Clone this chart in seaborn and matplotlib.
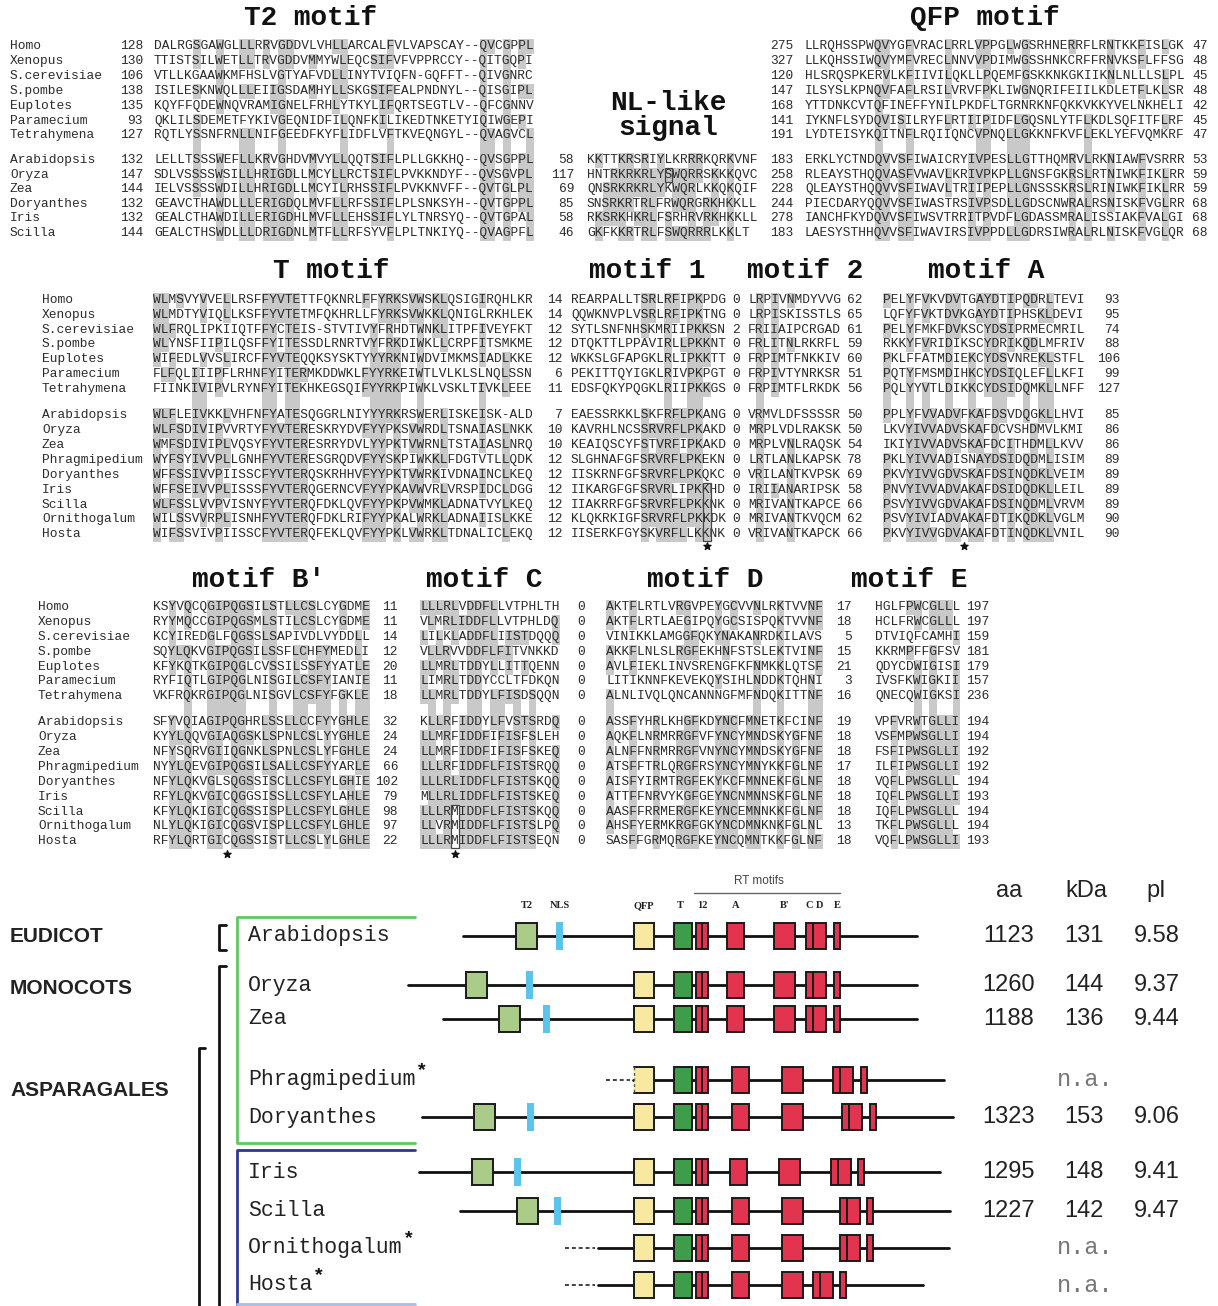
import matplotlib
matplotlib.use("Agg")
import matplotlib.pyplot as plt
from matplotlib.patches import Rectangle
from collections import Counter
import seaborn as sns

sns.set_theme(style="white")
plt.rcParams["font.family"] = ["Liberation Mono", "DejaVu Sans Mono"]

# ---------------- alignment data ----------------
outgroup = ["Homo", "Xenopus", "S.cerevisiae", "S.pombe", "Euplotes", "Paramecium", "Tetrahymena"]
plants_short = ["Arabidopsis", "Oryza", "Zea", "Doryanthes", "Iris", "Scilla"]
plants = ["Arabidopsis", "Oryza", "Zea", "Phragmipedium", "Doryanthes",
          "Iris", "Scilla", "Ornithogalum", "Hosta"]

t2_start = [128, 130, 106, 138, 135, 93, 127, 132, 147, 144, 132, 132, 144]
t2_seq = [
    "DALRGSGAWGLLLRRVGDDVLVHLLARCALFVLVAPSCAY--QVCGPPL",
    "TTISTSILWETLLTRVGDDVMMYWLEQCSIFVFVPPRCCY--QITGQPI",
    "VTLLKGAAWKMFHSLVGTYAFVDLLINYTVIQFN-GQFFT--QIVGNRC",
    "ISILESKNWQLLLEIIGSDAMHYLLSKGSIFEALPNDNYL--QISGIPL",
    "KQYFFQDEWNQVRAMIGNELFRHLYTKYLIFQRTSEGTLV--QFCGNNV",
    "QKLILSDEMETFYKIVGEQNIDFILQNFKILIKEDTNKETYIQIWGEPI",
    "RQTLYSSNFRNLLNIFGEEDFKYFLIDFLVFTKVEQNGYL--QVAGVCL",
    "LELLTSSSWEFLLKRVGHDVMVYLLQQTSIFLPLLGKKHQ--QVSGPPL",
    "SDLVSSSSWSILLHRIGDLLMCYLLRCTSIFLPVKKNDYF--QVSGVPL",
    "IELVSSSSWDILLHRIGDLLMCYILRHSSIFLPVKKNVFF--QVTGLPL",
    "GEAVCTHAWDLLLERIGDQLMVFLLRFSSIFLPLSNKSYH--QVTGPPL",
    "GEALCTHAWDILLERIGDHLMVFLLEHSSIFLYLTNRSYQ--QVTGPAL",
    "GEALCTHSWDLLLDRIGDNLMTFLLRFSYVFLPLTNKIYQ--QVAGPFL",
]
nl_start = [58, 117, 69, 85, 58, 46]
nl_seq = [
    "KKTTKRSRIYLKRRRKQRKVNF",
    "HNTRKRKRLYSWQRRSKKKQVC",
    "QNSRKRKRLYKWQRLKKQKQIF",
    "SNSRKRTRLFRWQRGRKHKKLL",
    "RKSRKHKRLFSRHRVRKHKKLL",
    "GKFKKRTRLFSWQRRRLKKLT",
]
qfp_start = [275, 327, 120, 147, 168, 141, 191, 183, 258, 228, 244, 278, 183]
qfp_seq = [
    "LLRQHSSPWQVYGFVRACLRRLVPPGLWGSRHNERRFLRNTKKFISLGK",
    "LLKQHSSIWQVYMFVRECLNNVVPDIMWGSSHNKCRFFRNVKSFLFFSG",
    "HLSRQSPKERVLKFIIVILQKLLPQEMFGSKKNKGKIIKNLNLLLSLPL",
    "ILSYSLKPNQVFAFLRSILVRVFPKLIWGNQRIFEIILKDLETFLKLSR",
    "YTTDNKCVTQFINEFFYNILPKDFLTGRNRKNFQKKVKKYVELNKHELI",
    "IYKNFLSYDQVISILRYFLRTIIPIDFLGQSNLYTFLKDLSQFITFLRF",
    "LYDTEISYKQITNFLRQIIQNCVPNQLLGKKNFKVFLEKLYEFVQMKRF",
    "ERKLYCTNDQVVSFIWAICRYIVPESLLGTTHQMRVLRKNIAWFVSRRR",
    "RLEAYSTHQQVASFVWAVLKRIVPKPLLGNSFGKRSLRTNIWKFIKLRR",
    "QLEAYSTHQQVVSFIWAVLTRIIPEPLLGNSSSKRSLRINIWKFIKLRR",
    "PIECDARYQQVVSFIWASTRSIVPSDLLGDSCNWRALRSNISKFVGLRR",
    "IANCHFKYDQVVSFIWSVTRRITPVDFLGDASSMRALISSIAKFVALGI",
    "LAESYSTHHQVVSFIWAVIRSIVPPDLLGDRSIWRALRLNISKFVGLQR",
]
qfp_end = ["47", "48", "45", "48", "42", "45", "47", "53", "59", "59", "68", "68", "68"]

t_seq = [
    "WLMSVYVVELLRSFFYVTETTFQKNRLFFYRKSVWSKLQSIGIRQHLKR",
    "WLMDTYVIQLLKSFFYVTETMFQKHRLLFYRKSVWKKLQNIGLRKHLEK",
    "WLFRQLIPKIIQTFFYCTEIS-STVTIVYFRHDTWNKLITPFIVEYFKT",
    "WLYNSFIIPILQSFFYITESSDLRNRTVYFRKDIWKLLCRPFITSMKME",
    "WIFEDLVVSLIRCFFYVTEQQKSYSKTYYYRKNIWDVIMKMSIADLKKE",
    "FLFQLIIIPFLRHNFYITERMKDDWKLFYYRKEIWTLVLKLSLNQLSSN",
    "FIINKIVIPVLRYNFYITEKHKEGSQIFYYRKPIWKLVSKLTIVKLEEE",
    "WLFLEIVKKLVHFNFYATESQGGRLNIYYYRKRSWERLISKEISK-ALD",
    "WLFSDIVIPVVRTYFYVTERESKRYDVFYYPKSVWRDLTSNAIASLNKK",
    "WMFSDIVIPLVQSYFYVTERESRRYDVLYYPKTVWRNLTSTAIASLNRQ",
    "WYFSYIVVPLLGNHFYVTERESGRQDVFYYSKPIWKKLFDGTVTLLQDK",
    "WFFSSIVVPIISSCFYVTERQSKRHHVFYYPKTVWRKIVDNAINCLKEQ",
    "WFFSEIVVPLISSSFYVTERQGERNCVFYYPKAVWVRLVRSPIDCLDGG",
    "WLFSSLVVPVISNYFYVTERQFDKLQVFYYPKPVWMKLADNATVYLKEQ",
    "WILSSVVRPLISNHFYVTERQFDKLRIFYYPKALWRKLADNAIISLKKE",
    "WIFSSVIVPIISSCFYVTERQFEKLQVFYYPKLVWRKLTDNALICLEKQ",
]
t_gap = [14, 14, 12, 12, 12, 6, 11, 7, 10, 10, 12, 12, 12, 12, 12, 12]
m1_seq = [
    "REARPALLTSRLRFIPKPDG", "QQWKNVPLVSRLRFIPKTNG", "SYTLSNFNHSKMRIIPKKSN",
    "DTQKTTLPPAVIRLLPKKNT", "WKKSLGFAPGKLRLIPKKTT", "PEKITTQYIGKLRIVPKPGT",
    "EDSFQKYPQGKLRIIPKKGS", "EAESSRKKLSKFRFLPKANG", "KAVRHLNCSSRVRFLPKAKD",
    "KEAIQSCYFSTVRFIPKAKD", "SLGHNAFGFSRVRFLPKEKN", "IISKRNFGFSRVRFLPKQKC",
    "IIKARGFGFSRVRLIPKKHD", "IIAKRRFGFSRVRFLPKKNK", "KLQKRKIGFSRVRFLPKKDK",
    "IISERKFGYSKVRFLLKKNK",
]
m1_gap = [0, 0, 2, 0, 0, 0, 0, 0, 0, 0, 0, 0, 0, 0, 0, 0]
m2_seq = [
    "LRPIVNMDYVVG", "LRPISKISSTLS", "FRIIAIPCRGAD", "FRLITNLRKRFL",
    "FRPIMTFNKKIV", "FRPIVTYNRKSR", "FRPIMTFLRKDK", "VRMVLDFSSSSR",
    "MRPLVDLRAKSK", "MRPLVNLRAQSK", "LRTLANLKAPSK", "VRILANTKVPSK",
    "IRIIANARIPSK", "MRIVANTKAPCE", "MRIVANTKVQCM", "VRIVANTKAPCK",
]
m2_gap = [62, 65, 61, 59, 60, 51, 56, 50, 50, 54, 78, 69, 58, 66, 62, 66]
ma_seq = [
    "PELYFVKVDVTGAYDTIPQDRLTEVI", "LQFYFVKTDVKGAYDTIPHSKLDEVI",
    "PELYFMKFDVKSCYDSIPRMECMRIL", "RKKYFVRIDIKSCYDRIKQDLMFRIV",
    "PKLFFATMDIEKCYDSVNREKLSTFL", "PQTYFMSMDIHKCYDSIQLEFLLKFI",
    "PQLYYVTLDIKKCYDSIDQMKLLNFF", "PPLYFVVADVFKAFDSVDQGKLLHVI",
    "LKVYIVVADVSKAFDCVSHDMVLKMI", "IKIYIVVADVSKAFDCITHDMLLKVV",
    "PKLYIVVADISNAYDSIDQDMLISIM", "PKVYIVVGDVSKAFDSINQDKLVEIM",
    "PNVYIVVADVAKAFDSIDQDKLLEIL", "PSVYIVVGDVAKAFDSINQDMLVRVM",
    "PSVYIVIADVAKAFDTIKQDKLVGLM", "PKVYIVVGDVAKAFDTINQDKLVNIL",
]
ma_end = [93, 95, 74, 88, 106, 99, 127, 85, 86, 86, 89, 89, 89, 89, 90, 90]

bp_seq = [
    "KSYVQCQGIPQGSILSTLLCSLCYGDME", "RYYMQCCGIPQGSMLSTILCSLCYGDME",
    "KCYIREDGLFQGSSLSAPIVDLVYDDLL", "SQYLQKVGIPQGSILSSFLCHFYMEDLI",
    "KFYKQTKGIPQGLCVSSILSSFYYATLE", "RYFIQTLGIPQGLNISGILCSFYIANIE",
    "VKFRQKRGIPQGLNISGVLCSFYFGKLE", "SFYVQIAGIPQGHRLSSLLCCFYYGHLE",
    "KYYLQQVGIAQGSKLSPNLCSLYYGHLE", "NFYSQRVGIIQGNKLSPNLCSLYFGHLE",
    "NYYLQEVGIPQGSILSALLCSFYYARLE", "NFYLQKVGLSQGSSISCLLCSFYLGHIE",
    "RFYLQKVGICQGGSISSLLCSFYLAHLE", "KFYLQKIGICQGSSISPLLCSFYLGHLE",
    "NLYLQKIGICQGSVISPLLCSFYLGHLE", "RFYLQRTGICQGSSISTLLCSLYLGHLE",
]
bp_gap = [11, 11, 14, 12, 20, 11, 18, 32, 24, 24, 66, 102, 79, 98, 97, 22]
c_seq = [
    "LLLRLVDDFLLVTPHLTH", "VLMRLIDDFLLVTPHLDQ", "LILKLADDFLIISTDQQQ",
    "VLLRVVDDFLFITVNKKD", "LLMRLTDDYLLITTQENN", "LIMRLTDDYCCLTFDKQN",
    "LLMRLTDDYLFISDSQQN", "KLLRFIDDYLFVSTSRDQ", "LLMRFIDDFIFISFSLEH",
    "LLMRFIDDFIFISFSKEQ", "LLLRFIDDFLFISTSRQQ", "LLLRLIDDFLFISTSKQQ",
    "MLLRLIDDFLFISTSKEQ", "LLLRMIDDFLFISTSKQQ", "LLVRMIDDFLFISTSLPQ",
    "LLLRMIDDFLFISTSEQN",
]
c_gap = [0] * 16
d_seq = [
    "AKTFLRTLVRGVPEYGCVVNLRKTVVNF", "AKTFLRTLAEGIPQYGCSISPQKTVVNF",
    "VINIKKLAMGGFQKYNAKANRDKILAVS", "AKKFLNLSLRGFEKHNFSTSLEKTVINF",
    "AVLFIEKLINVSRENGFKFNMKKLQTSF", "LITIKNNFKEVEKQYSIHLNDDKTQHNI",
    "ALNLIVQLQNCANNNGFMFNDQKITTNF", "ASSFYHRLKHGFKDYNCFMNETKFCINF",
    "AQKFLNRMRRGFVFYNCYMNDSKYGFNF", "ALNFFNRMRRGFVNYNCYMNDSKYGFNF",
    "ATSFFTRLQRGFRSYNCYMNYKKFGLNF", "AISFYIRMTRGFEKYKCFMNNEKFGLNF",
    "ATTFFNRVYKGFGEYNCNMNNSKFGLNF", "AASFFRRMERGFKEYNCEMNNKKFGLNF",
    "AHSFYERMKRGFGKYNCDMNKNKFGLNL", "SASFFGRMQRGFKEYNCQMNTKKFGLNF",
]
d_gap = [17, 18, 5, 15, 21, 3, 16, 19, 18, 18, 17, 18, 18, 18, 13, 18]
e_seq = [
    "HGLFPWCGLLL", "HCLFRWCGLLL", "DTVIQFCAMHI", "KKRMPFFGFSV",
    "QDYCDWIGISI", "IVSFKWIGKII", "QNECQWIGKSI", "VPFVRWTGLLI",
    "VSFMPWSGLLI", "FSFIPWSGLLI", "ILFIPWSGLLI", "VQFLPWSGLLL",
    "IQFLPWSGLLI", "IQFLPWSGLLL", "TKFLPWSGLLL", "VQFLPWSGLLI",
]
e_end = [197, 197, 159, 181, 179, 157, 236, 194, 194, 192, 192, 194, 193, 194, 194, 193]

# ---------------- domain diagram data (schematic positions) ----------------
diag_asterisk = [False, False, False, True, False, False, False, True, True]
line_start = [463, 408, 443, 633, 422, 419, 460, 598, 598]
line_end = [917, 917, 917, 944, 953, 940, 950, 949, 923]
dash_start = [None, None, None, 606, None, None, None, 565, 565]
t2_pos = [516, 466, 499, None, 474, 472, 517, None, None]
nls_pos = [556, 526, 543, None, 527, 514, 554, None, None]
qfp_pos = [634, 634, 634, 634, 634, 634, 634, 634, 634]
t_pos = [674, 674, 674, 674, 674, 674, 674, 674, 674]
m12_pos = [696, 696, 696, 696, 696, 696, 696, 696, 696]
a_pos = [727, 727, 727, 732, 732, 730, 732, 732, 732]
bp_pos = [774, 774, 774, 782, 782, 779, 782, 782, 782]
cd_pos = [806, 806, 806, 833, 842, 831, 840, 840, 813]
e_pos = [834, 834, 834, 861, 870, 858, 867, 867, 840]
aa_len = ["1123", "1260", "1188", None, "1323", "1295", "1227", None, None]
kda = ["131", "144", "136", None, "153", "148", "142", None, None]
p_i = ["9.58", "9.37", "9.44", None, "9.06", "9.41", "9.47", None, None]

# ---------------- layout ----------------
CW = 7.75                      # width of one residue (px)
FS = CW / 0.6 * 0.72           # monospace font size in pt
ROW_H = 15.0
SHADE = "#c9c9c9"
TXT = "#2b2b2b"

top_y = [46, 61, 76, 91, 106, 121, 135, 160, 175, 189, 204, 218, 233]
mid_y = [300, 315, 330, 344, 359, 374, 389, 415, 430, 445, 460, 475, 490, 505, 519, 534]
bot_y = [607, 622, 637, 652, 667, 681, 696, 722, 737, 752, 767, 782, 797, 812, 826, 841]
diag_y = [936, 985, 1019, 1080, 1117, 1172, 1211, 1248, 1285]

fig = plt.figure(figsize=(12.18, 13.06), dpi=100)
ax = fig.add_axes([0, 0, 1, 1])
ax.set_xlim(0, 1218)
ax.set_ylim(1306, 0)
ax.axis("off")


def seq_block(seqs, ys, x0, frac=0.5):
    n = len(seqs)
    width = max(len(s) for s in seqs)
    mask = [[False] * len(s) for s in seqs]
    for j in range(width):
        col = [s[j] for s in seqs if j < len(s) and s[j] != "-"]
        if not col:
            continue
        res, cnt = Counter(col).most_common(1)[0]
        if cnt >= frac * n:
            for i, s in enumerate(seqs):
                if j < len(s) and s[j] == res:
                    mask[i][j] = True
    for i, s in enumerate(seqs):
        for j in range(len(s)):
            if not mask[i][j]:
                continue
            top = ys[i] - ROW_H / 2
            bot = ys[i] + ROW_H / 2
            if i + 1 < n and j < len(seqs[i + 1]) and mask[i + 1][j]:
                bot = ys[i + 1] - ROW_H / 2
            ax.add_patch(Rectangle((x0 + j * CW, top), CW, bot - top,
                                   fc=SHADE, ec="none", zorder=1))
        ax.text(x0, ys[i], s, fontsize=FS, color=TXT, ha="left", va="center", zorder=3)


def num_col(vals, ys, x, ha="right"):
    for v, y in zip(vals, ys):
        ax.text(x, y, str(v), fontsize=FS, color=TXT, ha=ha, va="center", zorder=3)


def names(labels, ys, x):
    for lab, y in zip(labels, ys):
        ax.text(x, y, lab, fontsize=FS, color=TXT, ha="left", va="center")


def title(s, x, y):
    ax.text(x, y, s, fontsize=20, fontweight="bold", color="#111", ha="center", va="center")


def box_cells(x0, col, y_from, y_to):
    ax.add_patch(Rectangle((x0 + col * CW, y_from - 7), CW, y_to - y_from + 14,
                           fill=False, ec="#444", lw=0.9, zorder=4))


def star(x0, col, y):
    ax.scatter([x0 + (col + 0.5) * CW], [y], marker="*", s=28, color="#111", zorder=4)


# ---- top section: T2 / NL-like / QFP ----
title("T2 motif", 310, 18)
title("QFP motif", 985, 18)
title("NL-like", 668, 103)
title("signal", 668, 128)
names(outgroup + plants_short, top_y, 10)
num_col(t2_start, top_y, 143)
seq_block(t2_seq, top_y, 154)
num_col(nl_start, top_y[7:], 574)
seq_block(nl_seq, top_y[7:], 587)
box_cells(587, 10, top_y[8], top_y[8])
num_col(qfp_start, top_y, 793)
seq_block(qfp_seq, top_y, 805)
num_col(qfp_end, top_y, 1192, ha="left")

# ---- middle section: T / 1 / 2 / A ----
title("T motif", 331, 271)
title("motif 1", 647, 271)
title("motif 2", 805, 271)
title("motif A", 986, 271)
names(outgroup + plants, mid_y, 42)
seq_block(t_seq, mid_y, 153)
num_col(t_gap, mid_y, 563)
seq_block(m1_seq, mid_y, 571)
num_col(m1_gap, mid_y, 740)
seq_block(m2_seq, mid_y, 748)
num_col(m2_gap, mid_y, 847, ha="left")
seq_block(ma_seq, mid_y, 883)
num_col(ma_end, mid_y, 1120)
box_cells(571, 17, mid_y[12], mid_y[15])
star(571, 17, 546)
star(883, 10, 546)

# ---- bottom section: B' / C / D / E ----
title("motif B'", 258, 580)
title("motif C", 484, 580)
title("motif D", 705, 580)
title("motif E", 909, 580)
names(outgroup + plants, bot_y, 38)
seq_block(bp_seq, bot_y, 153)
num_col(bp_gap, bot_y, 398)
seq_block(c_seq, bot_y, 420)
num_col(c_gap, bot_y, 585)
seq_block(d_seq, bot_y, 606)
num_col(d_gap, bot_y, 852)
seq_block(e_seq, bot_y, 875)
num_col(e_end, bot_y, 966, ha="left")
box_cells(420, 4, bot_y[13], bot_y[15])
star(153, 9, 854)
star(420, 4, 854)

# ---------------- domain diagram ----------------
RED, GREEN, LGREEN, YELLOW, BLUE = "#e3344f", "#3f9c4b", "#abcb88", "#f7e9a0", "#5cc3ea"
BH = 26


def dbox(x, y, w, fc):
    ax.add_patch(Rectangle((x, y - BH / 2), w, BH, fc=fc, ec="#1a1a1a", lw=1.4, zorder=3))


for i, (sp, y) in enumerate(zip(plants, diag_y)):
    ax.text(248, y, sp, fontsize=15.5, color="#222", ha="left", va="center")
    if diag_asterisk[i]:
        ax.text(248 + len(sp) * 15.5 / 0.72 * 0.6, y - 9, "*", fontsize=14,
                fontweight="bold", color="#111", ha="left", va="center")
    ax.plot([line_start[i], line_end[i]], [y, y], color="#111", lw=2.0, zorder=2)
    if dash_start[i] is not None:
        ax.plot([dash_start[i], line_start[i] - 3], [y, y], color="#333", lw=1.3,
                ls=(0, (2.2, 1.6)), zorder=2)
    if t2_pos[i] is not None:
        dbox(t2_pos[i], y, 21, LGREEN)
    if nls_pos[i] is not None:
        ax.add_patch(Rectangle((nls_pos[i], y - 14), 7, 28, fc=BLUE, ec="none", zorder=3))
    if dash_start[i] is not None and t2_pos[i] is None and i == 3:
        ax.add_patch(Rectangle((qfp_pos[i], y - BH / 2), 20, BH, fc=YELLOW, ec="none", zorder=3))
        xq = qfp_pos[i]
        ax.plot([xq, xq + 20, xq + 20, xq], [y - BH / 2, y - BH / 2, y + BH / 2, y + BH / 2],
                color="#1a1a1a", lw=1.4, zorder=4)
        ax.plot([xq, xq], [y - BH / 2, y + BH / 2], color="#555", lw=1.0, ls=(0, (2, 2)), zorder=4)
    else:
        dbox(qfp_pos[i], y, 20, YELLOW)
    dbox(t_pos[i], y, 18, GREEN)
    dbox(m12_pos[i], y, 6, RED)
    dbox(m12_pos[i] + 6, y, 6, RED)
    dbox(a_pos[i], y, 17, RED)
    dbox(bp_pos[i], y, 21, RED)
    dbox(cd_pos[i], y, 7, RED)
    dbox(cd_pos[i] + 7, y, 13, RED)
    dbox(e_pos[i], y, 6, RED)
    if aa_len[i] is not None:
        for v, xc in zip([aa_len[i], kda[i], p_i[i]], [1009, 1084, 1157]):
            ax.text(xc, y, v, fontsize=17, family="Liberation Sans", color="#222",
                    ha="center", va="center")
    else:
        ax.text(1085, y, "n.a.", fontsize=17, color="#777", ha="center", va="center")

# domain labels over the Arabidopsis row
lab_y = 906
dom_labels = [("T2", t2_pos[0] + 10.5), ("NLS", nls_pos[0] + 3.5), ("QFP", qfp_pos[0] + 10),
              ("T", t_pos[0] + 6), ("12", m12_pos[0] + 6), ("A", a_pos[0] + 8.5),
              ("B'", bp_pos[0] + 10.5), ("C", cd_pos[0] + 3), ("D", cd_pos[0] + 14),
              ("E", e_pos[0] + 3)]
for lab, xc in dom_labels:
    ax.text(xc, lab_y, lab, fontsize=7.5, family="Liberation Serif", fontweight="bold",
            color="#222", ha="center", va="center")
ax.plot([m12_pos[0] - 2, e_pos[0] + 6], [893, 893], color="#666", lw=1.0)
ax.text(759, 881, "RT motifs", fontsize=8.5, family="Liberation Sans", color="#444",
        ha="center", va="center")
for h, xc in zip(["aa", "kDa", "pI"], [1009, 1086, 1156]):
    ax.text(xc, 891, h, fontsize=17, family="Liberation Sans", color="#222", ha="center", va="center")

# clade labels and brackets
for lab, y in zip(["EUDICOT", "MONOCOTS", "ASPARAGALES"], [937, 988, 1090]):
    ax.text(10, y, lab, fontsize=15, family="Liberation Sans", fontweight="bold",
            color="#222", ha="left", va="center")
ax.plot([226, 219, 219, 226], [925, 925, 950, 950], color="#111", lw=2)
ax.plot([226, 219, 219], [966, 966, 1306], color="#111", lw=2)
ax.plot([205, 199, 199], [1048, 1048, 1306], color="#111", lw=2)
ax.plot([415, 237, 237, 415], [917, 917, 1143, 1143], color="#5ec95e", lw=2)
ax.plot([415, 237, 237], [1150, 1150, 1306], color="#2b3a8c", lw=2)
ax.plot([237, 415], [1304, 1304], color="#a9bce8", lw=2)

fig.savefig("out.png", dpi=100)
